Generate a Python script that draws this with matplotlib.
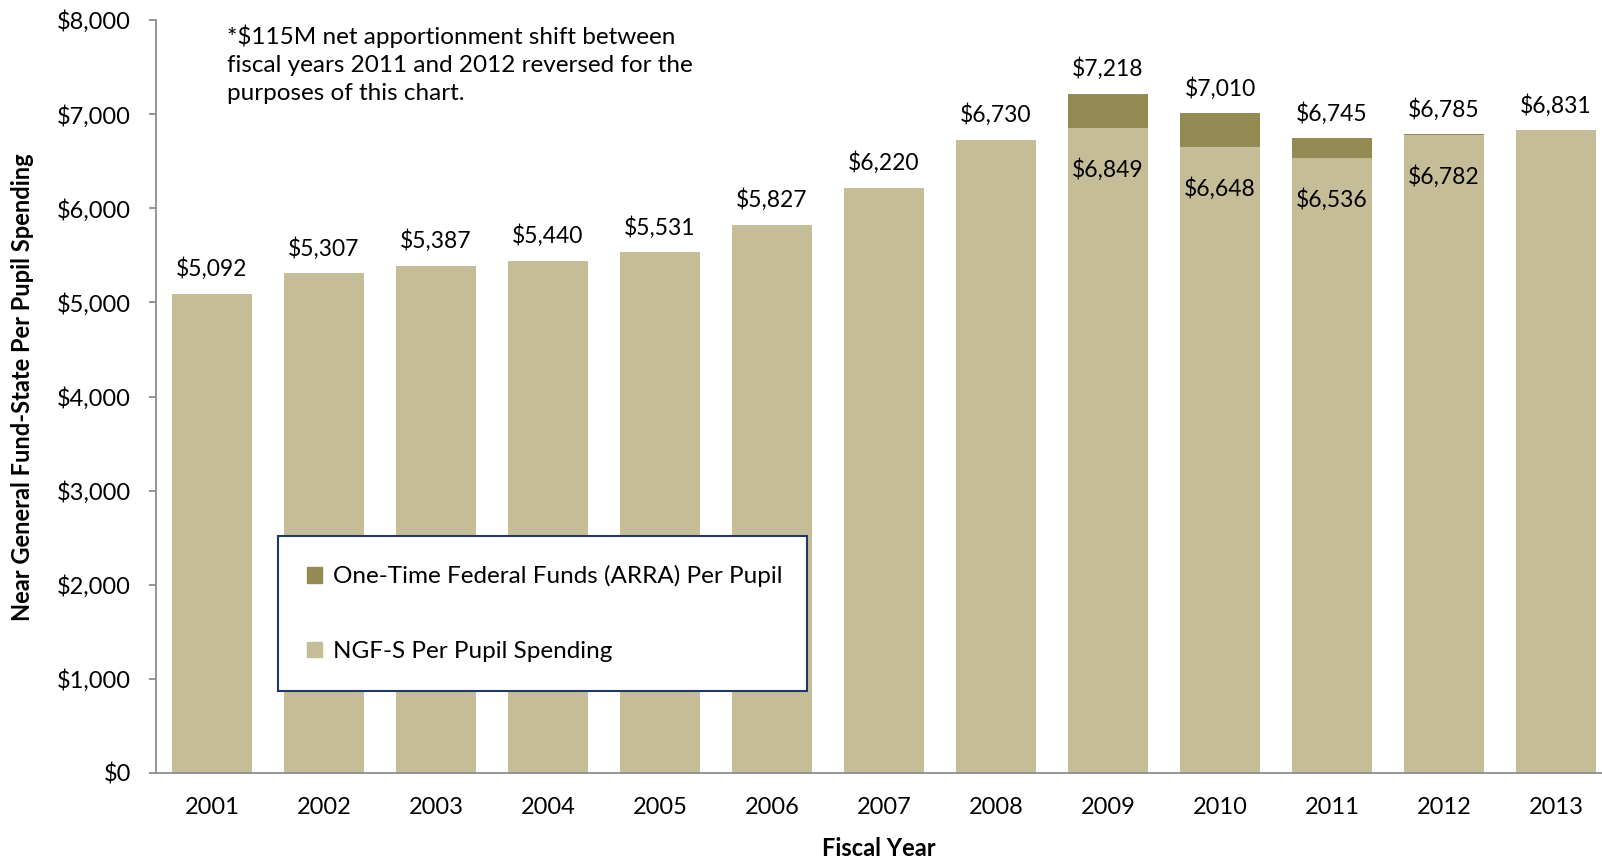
import matplotlib.pyplot as plt
from matplotlib.patches import Patch

plt.rcParams['font.family'] = ['Lato', 'DejaVu Sans']

# Dados (leitura do gráfico)
anos = ['2001', '2002', '2003', '2004', '2005', '2006', '2007',
        '2008', '2009', '2010', '2011', '2012', '2013']
ngfs = [5092, 5307, 5387, 5440, 5531, 5827, 6220,
        6730, 6849, 6648, 6536, 6782, 6831]
total = [5092, 5307, 5387, 5440, 5531, 5827, 6220,
         6730, 7218, 7010, 6745, 6785, 6831]
arra = [t - n for t, n in zip(total, ngfs)]
anos_internos = ['2009', '2010', '2011', '2012']

cor_ngfs = '#C4BD97'
cor_arra = '#948A54'
cinza = '#8C8C8C'

W, H = 1602, 859
fig = plt.figure(figsize=(W / 100, H / 100), dpi=100)
ax = fig.add_axes([156 / W, (H - 773) / H, (1602 - 156) / W, (773 - 20) / H])

x = list(range(len(anos)))
largura = 0.714
ax.bar(x, ngfs, largura, color=cor_ngfs, label='NGF-S Per Pupil Spending')
ax.bar(x, arra, largura, bottom=ngfs, color=cor_arra,
       label='One-Time Federal Funds (ARRA) Per Pupil')

for i in x:
    ax.annotate(f'${total[i]:,}', (i, total[i]), xytext=(0, 18),
                textcoords='offset points', ha='center', va='center', fontsize=16.5)
    if anos[i] in anos_internos:
        ax.annotate(f'${ngfs[i]:,}', (i, ngfs[i]), xytext=(0, -30),
                    textcoords='offset points', ha='center', va='center', fontsize=16.5)

ax.set_xlim(-0.5, 12.5 - 10 / 112)
ax.set_ylim(0, 8000)
ax.set_xticks(x)
ax.set_xticklabels(anos)
ax.set_yticks(range(0, 8001, 1000))
ax.yaxis.set_major_formatter(plt.FuncFormatter(lambda v, p: f'${int(v):,}'))
ax.tick_params(axis='y', length=5, width=1.3, color=cinza, labelsize=17, pad=13)
ax.tick_params(axis='x', length=0, labelsize=17, pad=17)

for lado in ['top', 'right']:
    ax.spines[lado].set_visible(False)
for lado in ['left', 'bottom']:
    ax.spines[lado].set_color(cinza)
    ax.spines[lado].set_linewidth(1.3)

ax.set_xlabel('Fiscal Year', fontsize=17, fontweight='bold', labelpad=14)
ax.set_ylabel('Near General Fund-State Per Pupil Spending', fontsize=17,
              fontweight='bold')
ax.yaxis.set_label_coords((34 - 156) / 1446, (773 - 387) / 753)

fig.text(227 / W, 1 - 64 / H,
         '*$115M net apportionment shift between\n'
         'fiscal years 2011 and 2012 reversed for the\n'
         'purposes of this chart.',
         fontsize=17.5, va='center', ha='left', linespacing=1.42)

handles = [Patch(color=cor_arra, label='One-Time Federal Funds (ARRA) Per Pupil'),
           Patch(color=cor_ngfs, label='NGF-S Per Pupil Spending')]
leg = ax.legend(handles=handles, loc='lower left',
                bbox_to_anchor=((278 - 156) / (1602 - 156), (773 - 691) / (773 - 20),
                                (807 - 278) / (1602 - 156), (691 - 539) / (773 - 20)),
                mode='expand', fontsize=17.5, frameon=True, fancybox=False,
                handlelength=0.6, handleheight=0.6, handletextpad=0.45,
                labelspacing=2.2, borderpad=1.2, borderaxespad=0)
leg.get_frame().set_edgecolor('#1F3864')
leg.get_frame().set_facecolor('white')
leg.get_frame().set_alpha(1)
leg.get_frame().set_linewidth(1.5)

fig.savefig('out.png', dpi=100)
